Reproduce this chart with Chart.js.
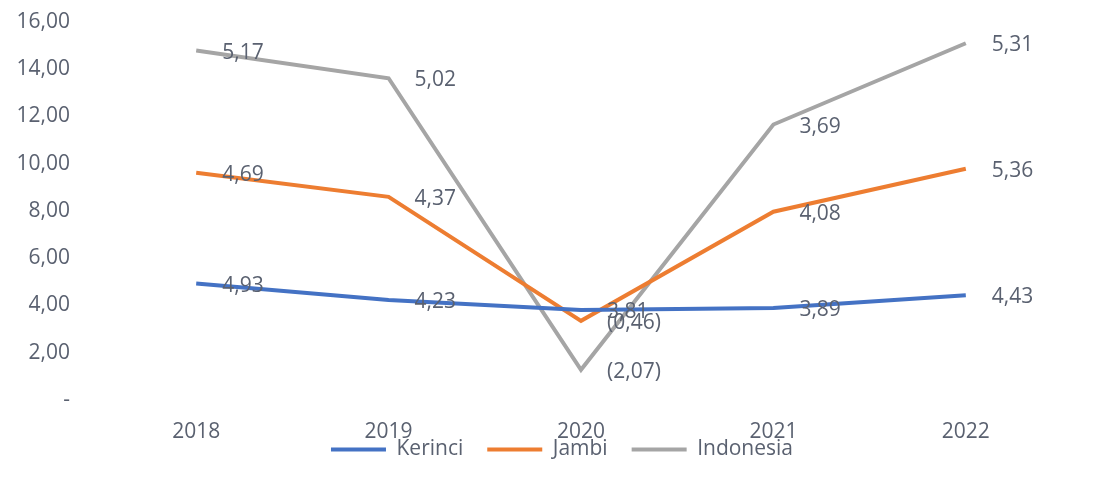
<!DOCTYPE html>
<html>
<head>
<meta charset="utf-8">
<script src="https://cdn.jsdelivr.net/npm/chart.js@4"></script>
<style>
html,body{margin:0;padding:0;background:#fff;}
#wrap{width:1094px;height:477px;position:relative;}
</style>
</head>
<body>
<div id="wrap"><canvas id="c" width="1094" height="477"></canvas></div>
<script>
const years = ['2018', '2019', '2020', '2021', '2022'];
const kerinci = [4.93, 4.23, 3.81, 3.89, 4.43];
const jambi = [4.69, 4.37, -0.46, 4.08, 5.36];
const indonesia = [5.17, 5.02, -2.07, 3.69, 5.31];
const yTicks = [0, 2, 4, 6, 8, 10, 12, 14, 16];

const textColor = '#5a6170';
const fontFamily = '"Open Sans", sans-serif';

function fmt(v) {
  const s = Math.abs(v).toFixed(2).replace('.', ',');
  return v < 0 ? '(' + s + ')' : s;
}

const labelPlugin = {
  id: 'valueLabels',
  afterDatasetsDraw(chart) {
    const ctx = chart.ctx;
    ctx.save();
    ctx.font = '21px ' + fontFamily;
    ctx.fillStyle = textColor;
    ctx.textAlign = 'left';
    ctx.textBaseline = 'middle';
    chart.data.datasets.forEach((ds, di) => {
      const meta = chart.getDatasetMeta(di);
      meta.data.forEach((pt, i) => {
        ctx.fillText(fmt(ds.data[i]), pt.x + 26, pt.y + 2);
      });
    });
    ctx.restore();
  }
};

// Let the legend overlap the x-axis labels slightly, as in the reference
const legendTweak = {
  id: 'legendTweak',
  afterInit(chart) {
    const lg = chart.legend;
    if (lg && !lg._patched) {
      const origFit = lg.fit.bind(lg);
      lg.fit = function () { origFit(); this.height = 32; };
      lg._patched = true;
    }
  },
  beforeDraw(chart) {
    const lg = chart.legend;
    if (lg) {
      lg.top = 415; lg.bottom = 477; lg.height = 62;
      lg.left = 30; lg.right = chart.width; lg.width = chart.width - 30;
    }
  }
};

new Chart(document.getElementById('c'), {
  type: 'line',
  data: {
    labels: years,
    datasets: [
      { label: 'Kerinci', data: kerinci, borderColor: '#4472C4', backgroundColor: '#4472C4', borderWidth: 4, pointRadius: 0, fill: false, tension: 0 },
      { label: 'Jambi', data: jambi, borderColor: '#ED7D31', backgroundColor: '#ED7D31', borderWidth: 4, pointRadius: 0, fill: false, tension: 0 },
      { label: 'Indonesia', data: indonesia, borderColor: '#A5A5A5', backgroundColor: '#A5A5A5', borderWidth: 4, pointRadius: 0, fill: false, tension: 0 }
    ]
  },
  options: {
    responsive: false,
    animation: false,
    layout: { padding: { top: 22, right: 32, bottom: 0, left: 0 } },
    plugins: {
      tooltip: { enabled: false },
      legend: {
        position: 'bottom',
        labels: {
          color: textColor,
          font: { family: fontFamily, size: 21 },
          boxWidth: 55,
          boxHeight: 4,
          padding: 24,
          generateLabels(chart) {
            const items = Chart.defaults.plugins.legend.labels.generateLabels(chart);
            items.forEach(it => { it.lineWidth = 0; it.fillStyle = it.strokeStyle; });
            return items;
          }
        }
      }
    },
    scales: {
      x: {
        offset: true,
        grid: { display: false },
        border: { display: false },
        ticks: { color: textColor, font: { family: fontFamily, size: 21 }, padding: 11 },
        afterFit(scale) { scale.height = 45; scale.paddingTop = 0; scale.paddingBottom = 0; }
      },
      y: {
        stacked: 'single',
        min: 0,
        max: 16,
        grid: { display: false },
        border: { display: false },
        afterBuildTicks(scale) { scale.ticks = yTicks.map(v => ({ value: v })); },
        afterFit(scale) { scale.width = 100; scale.paddingTop = 0; scale.paddingBottom = 0; },
        ticks: {
          color: textColor,
          font: { family: fontFamily, size: 21 },
          padding: 22,
          callback(v) { return v === 0 ? '-' : v.toFixed(2).replace('.', ','); }
        }
      }
    }
  },
  plugins: [labelPlugin, legendTweak]
});
</script>
</body>
</html>
